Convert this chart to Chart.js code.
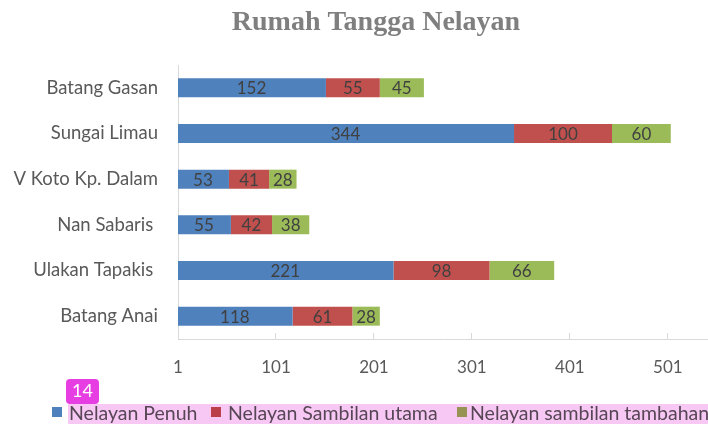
<!DOCTYPE html>
<html>
<head>
<meta charset="utf-8">
<script src="https://cdn.jsdelivr.net/npm/chart.js@4/dist/chart.umd.min.js"></script>
<style>
    body { margin: 0; background: #fff; }
    #wrap { position: relative; width: 708px; height: 424px; overflow: hidden; }
    #chart { position: absolute; left: 0; top: 0; }
    .sw { position: absolute; top: 407px; width: 10px; height: 10px; }
    .lbl { position: absolute; top: 401px; height: 22px; line-height: 22px; font: 19.5px Lato, sans-serif; color: #595959; white-space: nowrap; }
    #mark { position: absolute; left: 68px; top: 404px; width: 640px; height: 20px; background: #f8c8f4; mix-blend-mode: multiply; }
    #badge { position: absolute; left: 66px; top: 379px; width: 33px; height: 25px; line-height: 25px; text-align: center; background: #e63ee2; color: #fff; border-radius: 4px; font: 18px Lato, sans-serif; }
</style>
</head>
<body>
<div id="wrap">
    <canvas id="chart" width="708" height="424"></canvas>
    <div id="legend"></div>
    <div id="mark"></div>
    <div id="badge">14</div>
</div>
<script>
// data
const categories = ['Batang Gasan', 'Sungai Limau', 'V Koto Kp. Dalam', 'Nan Sabaris ', 'Ulakan Tapakis ', 'Batang Anai'];
const nelayanPenuh = [152, 344, 53, 55, 221, 118];
const sambilanUtama = [55, 100, 41, 42, 98, 61];
const sambilanTambahan = [45, 60, 28, 38, 66, 28];
const seriesNames = ['Nelayan Penuh', 'Nelayan Sambilan utama', 'Nelayan sambilan tambahan'];
const seriesColors = ['#4f81bd', '#c0504d', '#9bbb59'];
const xTicks = [1, 101, 201, 301, 401, 501];
const chartTitle = 'Rumah Tangga Nelayan';

// title sits a bit right of the canvas centre, so draw it ourselves
const titlePlugin = {
    id: 'titlePlugin',
    afterDraw(chart) {
        const ctx = chart.ctx;
        ctx.save();
        ctx.font = 'bold 28px "Liberation Serif"';
        ctx.fillStyle = '#7f7f7f';
        ctx.textAlign = 'center';
        ctx.textBaseline = 'alphabetic';
        ctx.fillText(chartTitle, 376, 30);
        ctx.restore();
    }
};

const barLabels = {
    id: 'barLabels',
    afterDatasetsDraw(chart) {
        const ctx = chart.ctx;
        ctx.save();
        ctx.font = '17px Lato, sans-serif';
        ctx.fillStyle = '#404040';
        ctx.textAlign = 'center';
        ctx.textBaseline = 'middle';
        chart.data.datasets.forEach((ds, i) => {
            chart.getDatasetMeta(i).data.forEach((bar, j) => {
                ctx.fillText(ds.data[j], (bar.x + bar.base) / 2, bar.y + 1);
            });
        });
        ctx.restore();
    }
};

const allSeries = [nelayanPenuh, sambilanUtama, sambilanTambahan];

new Chart(document.getElementById('chart'), {
    type: 'bar',
    data: {
        labels: categories,
        datasets: allSeries.map((values, i) => ({
            label: seriesNames[i],
            data: values,
            backgroundColor: seriesColors[i],
            borderWidth: 0,
            barPercentage: 0.416,
            categoryPercentage: 1
        }))
    },
    options: {
        indexAxis: 'y',
        responsive: false,
        animation: false,
        layout: { padding: { left: 0, right: 0, top: 65, bottom: 0 } },
        plugins: {
            legend: { display: false },
            tooltip: { enabled: false },
            title: { display: false }
        },
        scales: {
            x: {
                stacked: true,
                min: 1,
                max: 542,
                afterBuildTicks: s => { s.ticks = xTicks.map(v => ({ value: v })); },
                afterFit: s => { s.height = 85; },
                grid: { drawOnChartArea: false, drawTicks: true, tickLength: -6, color: '#d9d9d9' },
                border: { color: '#d9d9d9' },
                ticks: { color: '#595959', font: { family: 'Lato', size: 17 }, padding: 24, maxRotation: 0 }
            },
            y: {
                stacked: true,
                afterFit: s => { s.width = 178; },
                grid: { drawOnChartArea: false, drawTicks: false },
                border: { color: '#d9d9d9' },
                ticks: { color: '#595959', font: { family: 'Lato', size: 18.5 }, padding: 20 }
            }
        }
    },
    plugins: [barLabels, titlePlugin]
});

// legend below the chart
const legend = document.getElementById('legend');
const swatchX = [52, 211, 457];
const textX = [69, 228, 470];
seriesNames.forEach((name, i) => {
    const sw = document.createElement('div');
    sw.className = 'sw';
    sw.style.left = swatchX[i] + 'px';
    sw.style.background = seriesColors[i];
    legend.appendChild(sw);
    const t = document.createElement('div');
    t.className = 'lbl';
    t.style.left = textX[i] + 'px';
    t.textContent = name;
    legend.appendChild(t);
});
</script>
</body>
</html>
